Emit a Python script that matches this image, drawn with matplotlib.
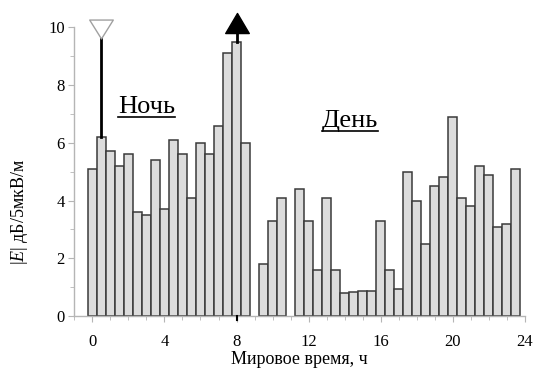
import numpy as np
import matplotlib.pyplot as plt
from matplotlib.ticker import MultipleLocator
from matplotlib.path import Path

plt.rcParams['font.family'] = ['Liberation Serif', 'DejaVu Serif']
plt.rcParams['mathtext.fontset'] = 'custom'
plt.rcParams['mathtext.rm'] = 'Liberation Serif'
plt.rcParams['mathtext.it'] = 'Liberation Serif:italic'

# half-hour averages, |E| in dB over 5 uV/m; nan = no data
hours = np.arange(0, 24, 0.5)
field = [5.1, 6.2, 5.7, 5.2, 5.6, 3.6, 3.5, 5.4, 3.7, 6.1, 5.6, 4.1,
         6.0, 5.6, 6.6, 9.1, 9.5, 6.0,
         np.nan,
         1.8, 3.3, 4.1,
         np.nan,
         4.4, 3.3, 1.6, 4.1, 1.6, 0.81, 0.83, 0.85, 0.88, 3.3, 1.6, 0.95,
         5.0, 4.0, 2.5, 4.5, 4.8, 6.9, 4.1, 3.8, 5.2, 4.9, 3.1, 3.2, 5.1]

# events marked above the bars
open_event_hour = 0.5
closed_event_hour = 8.0

# period labels: text, x (hours), y (dB)
periods = [('Ночь', 3.0, 7.05), ('День', 14.3, 6.55)]

tri_down = Path([(-1, 0.8), (1, 0.8), (0, -0.8), (-1, 0.8)], closed=True)
tri_up = Path([(-1, -0.85), (1, -0.85), (0, 0.85), (-1, -0.85)], closed=True)


def underlined(ax, s, x, y, **kw):
    t = ax.text(x, y, s, ha='center', va='baseline', **kw)
    ax.figure.canvas.draw()
    bb = t.get_window_extent()
    inv = ax.transData.inverted()
    (x0, _), (x1, _) = inv.transform([(bb.x0, 0), (bb.x1, 0)])
    y_line = inv.transform((0, ax.transData.transform((0, y))[1] - 4))[1]
    ax.plot([x0, x1], [y_line, y_line], color='black', lw=1.2)


fig = plt.figure(figsize=(5.35, 3.7), dpi=100)
ax = fig.add_axes([0.139, 0.146, 0.842, 0.78])

ax.bar(hours, field, width=0.5, color='#dcdcdc', edgecolor='#3a3a3a',
       linewidth=1.1, zorder=2)

f = dict(zip(hours, field))
ax.plot([open_event_hour, open_event_hour], [f[open_event_hour], 9.65],
        color='black', lw=2, zorder=3)
ax.plot(open_event_hour, 9.94, marker=tri_down, ms=17, mfc='white',
        mec='#a0a0a0', mew=1, zorder=4, clip_on=False)
ax.plot([closed_event_hour, closed_event_hour], [f[closed_event_hour], 10.0],
        color='black', lw=2, zorder=3, clip_on=False)
ax.plot(closed_event_hour, 10.15, marker=tri_up, ms=17, color='black',
        zorder=4, clip_on=False)
ax.plot([closed_event_hour, closed_event_hour], [-0.15, 0], color='black',
        lw=1.5, clip_on=False, zorder=3)

ax.set_xlim(-1.0, 24.0)
ax.set_ylim(0, 10)
ax.xaxis.set_major_locator(MultipleLocator(4))
ax.xaxis.set_minor_locator(MultipleLocator(1))
ax.yaxis.set_major_locator(MultipleLocator(2))
ax.yaxis.set_minor_locator(MultipleLocator(1))

for side in ['top', 'right']:
    ax.spines[side].set_visible(False)
for side in ['left', 'bottom']:
    ax.spines[side].set_color('#b5b5b5')
    ax.spines[side].set_linewidth(1)
ax.tick_params(which='both', colors='#b5b5b5', labelcolor='black',
               labelsize=12, direction='out')
ax.tick_params(which='major', length=4)
ax.tick_params(which='minor', length=3)
ax.tick_params(axis='x', pad=9)
ax.tick_params(axis='y', pad=3)

ax.set_xlabel('Мировое время, ч', fontsize=13, labelpad=1)
ax.set_ylabel(r'$|E|$ дБ/5мкВ/м', fontsize=13, labelpad=6)
ax.yaxis.set_label_coords(-0.098, 0.36)

for name, px, py in periods:
    underlined(ax, name, px, py, fontsize=19)

fig.savefig('out.png', dpi=100)
